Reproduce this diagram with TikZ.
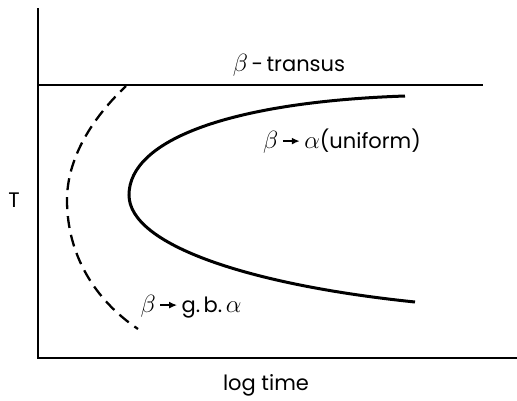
\documentclass[tikz,border=0pt]{standalone}
\usepackage{fontspec}
\setmainfont{Poppins}
\usetikzlibrary{arrows.meta}
\newcommand{\tarrow}{\tikz[baseline=-0.6ex]\draw[line width=2pt,-{Latex[length=8pt,width=7pt]}] (0,0)--(17pt,0);}
\newcommand{\gb}{{\fontsize{25}{28}\selectfont$\beta$}}
\newcommand{\ga}{{\fontsize{26}{28}\selectfont$\alpha$}}
\begin{document}
\begin{tikzpicture}[x=1pt,y=-1pt,
  axis/.style={line width=2.4pt},
  curve/.style={line width=3pt},
  dcurve/.style={line width=2.3pt,dash pattern=on 12pt off 7pt,dash phase=4pt},
  lbl/.style={font=\fontsize{21}{24}\selectfont,inner sep=0pt,anchor=base}]
\useasboundingbox (0,0) rectangle (517,400);
\coordinate (top) at (38,8);
\coordinate (org) at (38,358);
\coordinate (xend) at (517,358);
\coordinate (tl) at (38,85);
\coordinate (tr) at (483,85);
\draw[axis] (top) -- (org) -- (xend);
\draw[line width=1.4pt] (tl) -- (tr);
\coordinate (d1) at (126,86);
\coordinate (d2) at (67,200);
\coordinate (d3) at (138,329);
\draw[dcurve] (d1) .. controls (85,125) and (67,165) .. (d2) .. controls (67,255) and (95,300) .. (d3);
\coordinate (s1) at (405,96);
\coordinate (s2) at (129,195);
\coordinate (s3) at (415,302);
\draw[curve] (s1) .. controls (230,102) and (129,140) .. (s2) .. controls (129,245) and (250,285) .. (s3);
\node[lbl] (transus) at (289,71) {\gb\,-\,transus};
\node[lbl] (unif) at (342,148) {\gb\,\tarrow\,\ga(uniform)};
\node[lbl] (gbnode) at (191,312) {\gb\,\tarrow\,g.\,b.\,\ga};
\node[lbl] (T) at (14,207) {T};
\node[lbl] (logt) at (266,390) {log time};
\end{tikzpicture}
\end{document}
